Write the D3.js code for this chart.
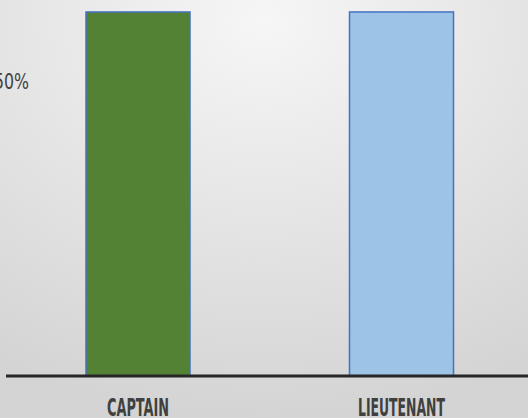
<!DOCTYPE html>
<html><head><meta charset="utf-8">
<script src="https://cdn.jsdelivr.net/npm/d3@7"></script>
<style>html,body{margin:0;padding:0;overflow:hidden;}svg{display:block;}</style>
</head><body>
<svg id="chart" width="528" height="418"></svg>
<script>
const categories = ["CAPTAIN", "LIEUTENANT"];
const values = [0.617, 0.617];
const barColors = ["#548235", "#9dc3e6"];
const tickValues = [0.5];

const W = 528, H = 418;
const svg = d3.select("#chart");
const defs = svg.append("defs");
const grad = defs.append("radialGradient").attr("id","bg")
  .attr("cx","50%").attr("cy","5%").attr("r","95%");
grad.append("stop").attr("offset","0%").attr("stop-color","#f6f6f6");
grad.append("stop").attr("offset","100%").attr("stop-color","#d4d4d4");
svg.append("rect").attr("width",W).attr("height",H).attr("fill","url(#bg)");

const baseY = 376;
const y = d3.scaleLinear().domain([0, 0.5]).range([baseY, 81]);
const x = d3.scalePoint().domain(categories).range([138, 401.5]);
const bw = 104;

svg.selectAll("rect.bar").data(categories).enter().append("rect")
  .attr("class","bar")
  .attr("x", d => x(d) - bw/2)
  .attr("y", (d,i) => y(values[i]))
  .attr("width", bw)
  .attr("height", (d,i) => baseY - y(values[i]))
  .attr("fill", (d,i) => barColors[i])
  .attr("stroke", "#4472c4")
  .attr("stroke-width", 1.5);

// baseline
svg.append("line").attr("x1",6).attr("x2",W).attr("y1",baseY).attr("y2",baseY)
  .attr("stroke","#262626").attr("stroke-width",3);

// y tick label
svg.selectAll("text.ytick").data(tickValues).enter().append("text")
  .attr("class","ytick")
  .attr("x", 29).attr("y", d => y(d) + 8)
  .attr("text-anchor","end")
  .attr("font-family","Liberation Sans Narrow, DejaVu Sans Condensed, sans-serif")
  .attr("font-size", 22)
  .attr("fill","#404040")
  .attr("textLength", 35).attr("lengthAdjust","spacingAndGlyphs")
  .text(d => d3.format(".0%")(d));

// category labels
const lens = [62, 87];
svg.selectAll("text.cat").data(categories).enter().append("text")
  .attr("class","cat")
  .attr("x", d => x(d)).attr("y", 416)
  .attr("text-anchor","middle")
  .attr("font-family","Liberation Sans Narrow, DejaVu Sans Condensed, sans-serif")
  .attr("font-size", 24)
  .attr("font-weight","bold")
  .attr("fill","#404040")
  .attr("textLength", (d,i) => lens[i]).attr("lengthAdjust","spacingAndGlyphs")
  .text(d => d);
</script>
</body></html>
